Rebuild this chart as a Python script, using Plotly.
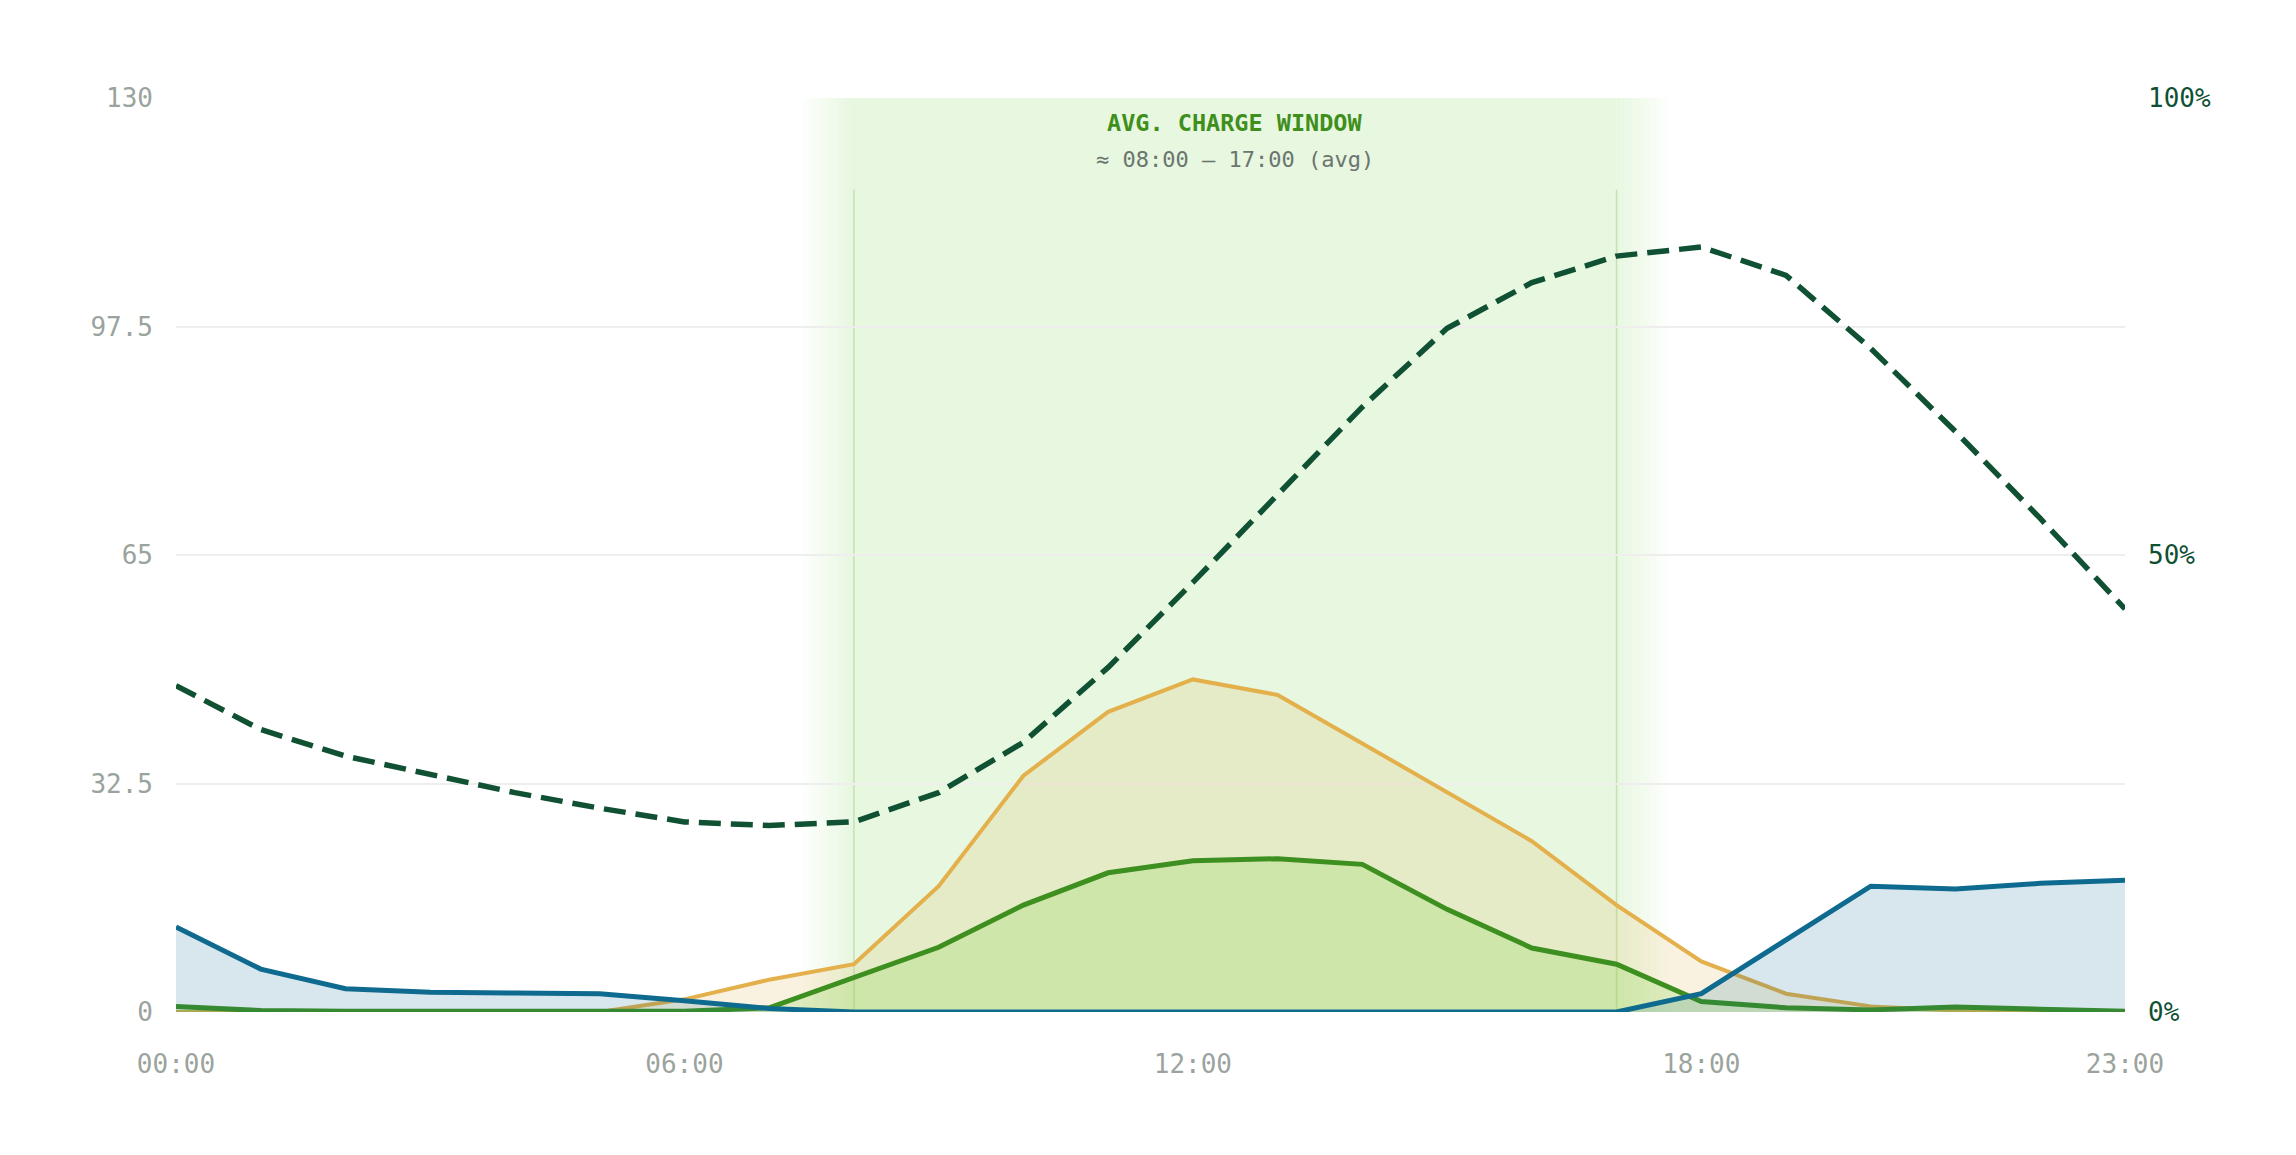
import plotly.graph_objects as go

hours = [f"{h:02d}:00" for h in range(24)]
hour_idx = list(range(24))

solar_kw = [0, 0, 0, 0, 0, 0, 1.8, 4.6, 6.8, 17.9, 33.6, 42.7, 47.3, 45.1, 38.2, 31.2,
            24.3, 15.2, 7.2, 2.6, 0.8, 0.2, 0.1, 0]
ev_charge_kw = [0.8, 0.2, 0.1, 0.1, 0.1, 0.1, 0.1, 0.6, 4.9, 9.2, 15.2, 19.8, 21.5, 21.8,
                21.0, 14.6, 9.1, 6.8, 1.5, 0.6, 0.3, 0.7, 0.4, 0.1]
grid_kw = [12.1, 6.1, 3.3, 2.8, 2.7, 2.6, 1.6, 0.5, 0, 0, 0, 0, 0, 0, 0, 0, 0, 0,
           2.6, 10.2, 17.9, 17.5, 18.3, 18.75]
soc_pct = [35.7, 30.9, 28.0, 26.0, 24.0, 22.3, 20.8, 20.4, 20.8, 24.0, 29.5, 37.7, 47.0,
           56.6, 66.2, 74.8, 79.8, 82.7, 83.7, 80.6, 72.6, 63.5, 54.0, 44.1]

y_ticks = [0, 32.5, 65, 97.5, 130]
y_ticktext = ["0", "32.5", "65", "97.5", "130"]
soc_ticks = [0, 50, 100]
soc_ticktext = ["0%", "50%", "100%"]
x_tick_labels = ["00:00", "06:00", "12:00", "18:00", "23:00"]

window_start, window_end = 8, 17
window_title = "AVG. CHARGE WINDOW"
window_sub = "≈ 08:00 – 17:00 (avg)"

FONT = "DejaVu Sans Mono"
GREY = "#9ba39d"
DARK = "#0f5132"

fig = go.Figure()

fig.add_trace(go.Scatter(x=hour_idx, y=solar_kw, mode="lines", name="Solar",
                         line=dict(color="#e3b04b", width=4),
                         fill="tozeroy", fillcolor="rgba(227,176,75,0.17)"))
fig.add_trace(go.Scatter(x=hour_idx, y=ev_charge_kw, mode="lines", name="EV charge",
                         line=dict(color="#3d8f1f", width=5),
                         fill="tozeroy", fillcolor="rgba(110,210,50,0.2)"))
fig.add_trace(go.Scatter(x=hour_idx, y=grid_kw, mode="lines", name="Grid",
                         line=dict(color="#0e6a8f", width=5),
                         fill="tozeroy", fillcolor="rgba(14,106,143,0.16)"))
fig.add_trace(go.Scatter(x=hour_idx, y=soc_pct, mode="lines", name="SoC", yaxis="y2",
                         line=dict(color=DARK, width=5.5, dash="22px,10px")))

# charge window band with soft edges
band_rgb = (231, 247, 224)
shapes = []
shapes.append(dict(type="rect", xref="x", yref="y", x0=window_start, x1=window_end,
                   y0=0, y1=130, fillcolor="rgb(%d,%d,%d)" % band_rgb,
                   line=dict(width=0), layer="below"))
fade = 0.65
n = 14
for i in range(n):
    a = (i + 0.5) / n
    w = fade / n
    shapes.append(dict(type="rect", xref="x", yref="y",
                       x0=window_start - fade + i * w, x1=window_start - fade + (i + 1) * w + 0.002,
                       y0=0, y1=130, fillcolor="rgb(%d,%d,%d)" % band_rgb, opacity=a,
                       line=dict(width=0), layer="below"))
    shapes.append(dict(type="rect", xref="x", yref="y",
                       x0=window_end + fade - (i + 1) * w - 0.002, x1=window_end + fade - i * w,
                       y0=0, y1=130, fillcolor="rgb(%d,%d,%d)" % band_rgb, opacity=a,
                       line=dict(width=0), layer="below"))
for xv in (window_start, window_end):
    shapes.append(dict(type="line", xref="x", yref="y", x0=xv, x1=xv, y0=0, y1=117,
                       line=dict(color="#c5e2b2", width=1.5), layer="below"))

annotations = [
    dict(x=(window_start + window_end) / 2, y=126.5, xref="x", yref="y", text=window_title,
         showarrow=False, font=dict(family=FONT, size=23.5, color="#3f8f1c", weight="bold"),
         xanchor="center", yanchor="middle"),
    dict(x=(window_start + window_end) / 2, y=121.2, xref="x", yref="y", text=window_sub,
         showarrow=False, font=dict(family=FONT, size=22, color="#6b756e"),
         xanchor="center", yanchor="middle"),
]

fig.update_layout(
    width=2296, height=1155,
    margin=dict(l=176, r=171, t=98, b=143),
    paper_bgcolor="white", plot_bgcolor="white",
    showlegend=False, hovermode=False,
    font=dict(family=FONT, size=26, color=GREY),
    shapes=shapes, annotations=annotations,
    xaxis=dict(range=[0, 23], tickvals=[hours.index(t) for t in x_tick_labels],
               ticktext=x_tick_labels, showgrid=False, zeroline=False, showline=False,
               ticks="", ticklabelstandoff=34, tickfont=dict(size=26, color=GREY)),
    yaxis=dict(range=[0, 130], tickvals=y_ticks, ticktext=y_ticktext,
               showgrid=True, gridcolor="#eeeeee", gridwidth=1.5, zeroline=False,
               showline=False, ticks="", ticklabelstandoff=22,
               tickfont=dict(size=26, color=GREY)),
    yaxis2=dict(range=[0, 100], overlaying="y", side="right", tickvals=soc_ticks,
                ticktext=soc_ticktext, showgrid=False, zeroline=False, showline=False,
                ticks="", ticklabelstandoff=22, tickfont=dict(size=26, color=DARK)),
)

fig.write_html("out.html")
